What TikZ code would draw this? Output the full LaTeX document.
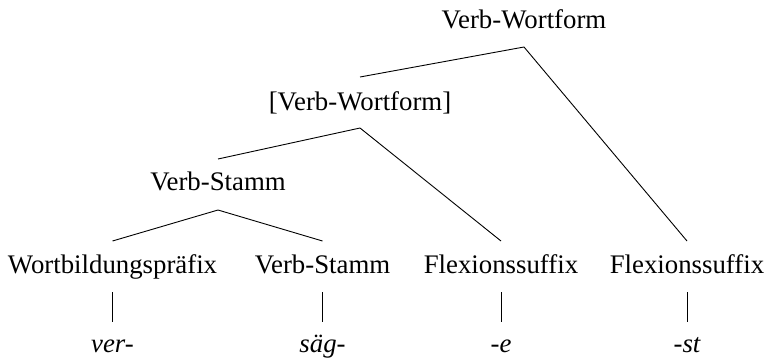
\documentclass[tikz,border=0pt]{standalone}
\usepackage{fontspec}
\setmainfont{Liberation Serif}
\begin{document}
\begin{tikzpicture}[x=1pt,y=-1pt,
  lab/.style={anchor=base,inner sep=0pt,font=\fontsize{26.8}{31}\selectfont},
  leaf/.style={lab,font=\fontsize{26.8}{31}\selectfont\itshape},
  edge/.style={line width=0.9pt,black}]
\useasboundingbox (0,0) rectangle (765,362);
\node[lab] (top) at (524,28) {Verb-Wortform};
\node[lab] (vw) at (360,110) {[Verb-Wortform]};
\node[lab] (vs) at (218,190) {Verb-Stamm};
\node[lab] (wbp) at (112.5,273) {Wortbildungspräfix};
\node[lab] (vs2) at (322.5,273) {Verb-Stamm};
\node[lab] (fs1) at (501,273) {Flexionssuffix};
\node[lab] (fs2) at (687,273) {Flexionssuffix};
\node[leaf] (l1) at (112.5,352) {ver-};
\node[leaf] (l2) at (322.5,352) {säg-};
\node[leaf] (l3) at (501,352) {-e};
\node[leaf] (l4) at (687,352) {-st};
\draw[edge] ([yshift=33pt]vw.base) -- ([yshift=-19pt]top.base) -- ([yshift=32pt]fs2.base);
\draw[edge] ([yshift=31pt]vs.base) -- ([yshift=-18pt]vw.base) -- ([yshift=32pt]fs1.base);
\draw[edge] ([yshift=32pt]wbp.base) -- ([yshift=-20pt]vs.base) -- ([yshift=32pt]vs2.base);
\foreach \a/\b in {wbp/l1,vs2/l2,fs1/l3,fs2/l4}
  \draw[edge] ([yshift=-19pt]\a.base) -- ([yshift=30pt]\b.base);
\end{tikzpicture}
\end{document}
